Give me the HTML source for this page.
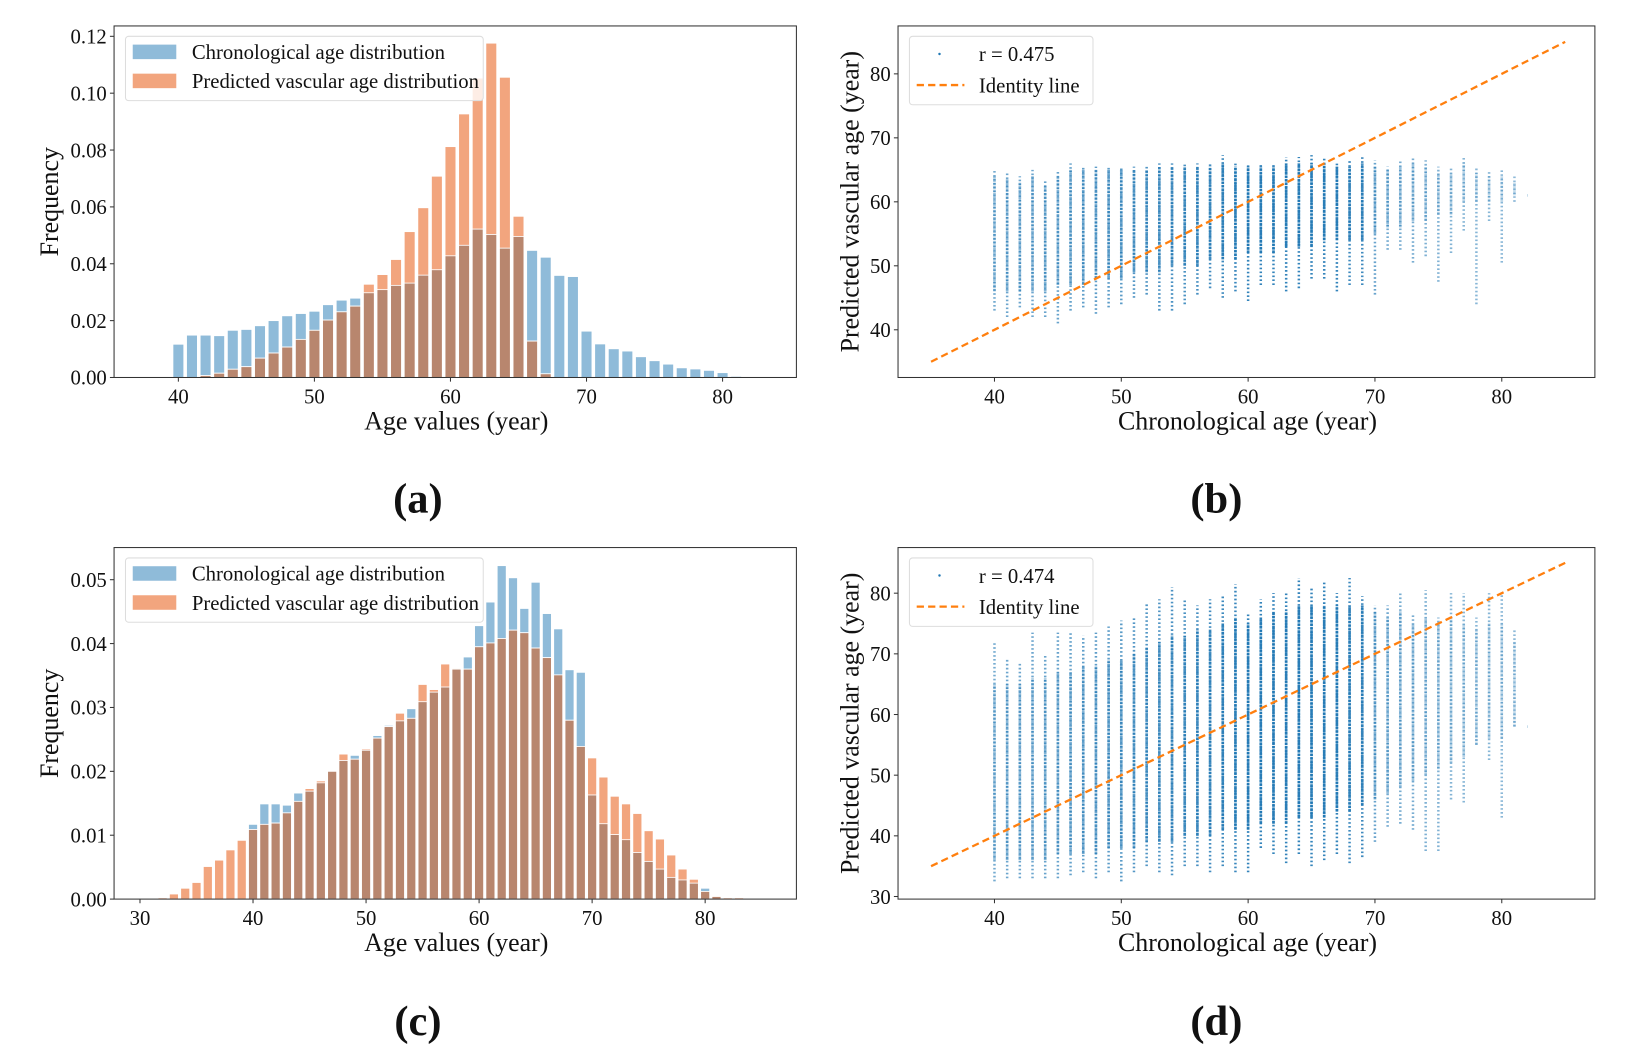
<!DOCTYPE html>
<html><head><meta charset="utf-8"><style>
html,body{margin:0;padding:0;background:#fff;}
svg{display:block;font-family:"Liberation Serif",serif;}
</style></head><body>
<svg id="fig" width="1626" height="1050" viewBox="0 0 1568 1012.5" xmlns="http://www.w3.org/2000/svg"></svg>
<script>
// ---------- data ----------
const histAges = [];
for (let a = 30; a <= 83; a++) histAges.push(a);
// chronological age distribution (ages 30..83)
const chronoFreq = [0,0,0,0,0,0,0,0,0,0,
 0.0117,0.0149,0.0149,0.0147,0.0166,0.0169,0.0182,0.0200,0.0217,0.0225,
 0.0233,0.0256,0.0272,0.0279,0.0298,0.0309,0.0324,0.0332,0.0360,0.0379,
 0.0428,0.0465,0.0522,0.0503,0.0455,0.0496,0.0447,0.0423,0.0359,0.0355,
 0.0163,0.0118,0.0101,0.0093,0.0073,0.0059,0.0047,0.0034,0.0030,0.0025,
 0.0017,0.0004,0,0];
// panel (a) predicted vascular age distribution (ages 30..83)
const predFreqA = [0,0,0,0,0,0,0,0,0,0,
 0,0,0.0007,0.0015,0.0029,0.0038,0.0068,0.0086,0.0107,0.0134,
 0.0166,0.0202,0.0231,0.0251,0.0328,0.0362,0.0415,0.0513,0.0597,0.0708,
 0.0812,0.0927,0.1053,0.1176,0.1056,0.0567,0.0128,0.0013,0,0,
 0,0,0,0,0,0,0,0,0,0,0,0,0,0];
// panel (c) predicted vascular age distribution (ages 30..83)
const predFreqC = [0,0,0.0002,0.0008,0.0017,0.0026,0.0051,0.0061,0.0077,0.0092,
 0.0109,0.0117,0.0119,0.0135,0.0153,0.0173,0.0185,0.0200,0.0227,0.0219,
 0.0235,0.0252,0.0270,0.0291,0.0283,0.0336,0.0328,0.0368,0.0361,0.0360,
 0.0395,0.0401,0.0408,0.0421,0.0417,0.0393,0.0378,0.0351,0.0280,0.0239,
 0.0221,0.0191,0.0161,0.0149,0.0134,0.0107,0.0094,0.0069,0.0047,0.0031,
 0.0012,0.0005,0.0002,0.0002];

const scatAges = [];
for (let a = 40; a <= 82; a++) scatAges.push(a);
const bHi = [65,64.5,64,65,63.5,65,66,65.5,65.5,65.5,65.5,65.5,65.5,66,66,66,66,66,67.3,66,66,66,66,67,67,67.3,67,66,66.5,67,66.5,65.5,66.5,67,66.5,65.5,65.5,67,65.5,65,65,64,61];
const bLo = [43,42,43.5,42,42,41,43,43.5,42.5,43.5,44,45,45.5,43,43,44,45.5,46.5,45,46,44.5,47,47,46,46.5,48,48,46,47,47,45.5,52.5,52.5,50.5,51.5,47.5,52,55.5,44,57,50.5,60,61];
const bCoreLo = [46,46,46,46,46,47,47,47,48,48,48,49,49,49,50,50,50,51,51,51,52,52,52,53,53,53,54,54,54,54,55,56,56,57,57,58,58,60,60,60,60,61,61];
const bCoreHi = [64,63.5,63,64,62.5,64,65,65,65,65,65,65,65,65.5,65.5,65.5,65.5,65.5,66,65.5,65.5,65.5,65.5,66,66,66,66,65.5,65.5,66,65.5,65,65.5,66,65.5,64.5,64.5,66,64.5,64,64,63,61];
const dHi = [72,69,68.5,73.5,70,73.5,73.5,73,73.5,74.5,75.5,76,78.5,79,81,79,78,79,79.5,81.5,76.5,79,80,80,82.5,81,82,80,82.5,79.5,78,78,80,76.5,80.5,76,80,80,76,80,80,74,58];
const dLo = [32.5,33,33,33,33,33,33.5,34,33,34,32.5,34,35,34,33.5,35,35,34,35,34,34,38,37,35.5,37,35,36,37,35.5,36.5,39,41.5,42,41,37.5,37.5,46,45.5,55,52.5,43,58,58];
const dCoreLo = [36,36,36,36,36,37,37,37,37,38,38,38,39,39,39,40,40,40,41,41,41,42,42,42,43,43,43,44,44,45,46,47,48,49,50,51,52,53,55,56,56,58,58];
const dCoreHi = [65,65,65,66,66,67,67,68,68,69,69,70,71,72,73,73,74,74,75,76,75,76,77,77,78,78,78,78,78,78,77,76,77,75,76,75,76,75,74,75,75,72,58];

const aYTicks = ["0.00","0.02","0.04","0.06","0.08","0.10","0.12"];
const cYTicks = ["0.00","0.01","0.02","0.03","0.04","0.05"];
const aXTicks = [40,50,60,70,80];
const cXTicks = [30,40,50,60,70,80];
const sXTicks = [40,50,60,70,80];
const bYTicks = [40,50,60,70,80];
const dYTicks = [30,40,50,60,70,80];
const identityRange = [35,85];

// ---------- helpers ----------
const NS = "http://www.w3.org/2000/svg";
const svg = document.getElementById('fig');
function mk(tag, attrs, parent, text) {
  const e = document.createElementNS(NS, tag);
  for (const k in attrs) e.setAttribute(k, attrs[k]);
  if (text !== undefined) e.textContent = text;
  (parent || svg).appendChild(e);
  return e;
}
const BLUE = "#8fbbd9", ORANGE = "#f2a57e", BROWN = "#b8866e";
const TICK_FS = 20, TITLE_FS = 25, LEG_FS = 20;

function axesFrame(g, L, R, T, B) {
  const r = mk('rect', {x:L, y:T, width:R-L, height:B-T, fill:'none', stroke:'#333', 'stroke-width':1}, g);
  
  
}
function xTicks(g, ticks, xf, B, labels) {
  ticks.forEach((t, i) => {
    const x = xf(t);
    mk('line', {x1:x, x2:x, y1:B, y2:B+4, stroke:'#333'}, g);
    const tx = mk('text', {x:x, y:B+25, 'font-size':TICK_FS, 'text-anchor':'middle', fill:'#111'}, g, labels ? labels[i] : t);
    
    
  });
}
function yTicks(g, vals, labels, yf, L) {
  vals.forEach((v, i) => {
    const y = yf(v);
    mk('line', {x1:L-4, x2:L, y1:y, y2:y, stroke:'#333'}, g);
    const tx = mk('text', {x:L-7, y:y+7, 'font-size':TICK_FS, 'text-anchor':'end', fill:'#111'}, g, labels[i]);
    
    
  });
}
function title(g, x, y, txt, rot, name) {
  const t = mk('text', {x:x, y:y, 'font-size':TITLE_FS, 'text-anchor':'middle', fill:'#111'}, g, txt);
  if (rot) t.setAttribute('transform', `rotate(-90 ${x} ${y})`);
  
  
}
function panelLabel(x, y, txt) {
  const t = mk('text', {x:x, y:y, 'font-size':41, 'font-weight':'bold', 'text-anchor':'middle', fill:'#111'}, svg, txt);
  
  
}

// ---------- histogram panel ----------
function histPanel(name, T, B, xf, yf, pred, yVals, yLabels, xT, L, R) {
  const g = mk('g', {}, svg);
  
  
  const w = (xf(41) - xf(40)) * 0.8;
  histAges.forEach((a, i) => {
    const b = chronoFreq[i], o = pred[i];
    const x = xf(a) - w/2;
    if (b > 0) {
      const r = mk('rect', {x:x, y:yf(b), width:w, height:yf(0)-yf(b), fill:BLUE, stroke:'#fff', 'stroke-width':0.8}, g);
      
      
    }
    if (o > 0) {
      const r = mk('rect', {x:x, y:yf(o), width:w, height:yf(0)-yf(o), fill:ORANGE, stroke:'#fff', 'stroke-width':0.8}, g);
      
      
    }
    const m = Math.min(b, o);
    if (m > 0) {
      const r = mk('rect', {x:x, y:yf(m), width:w, height:yf(0)-yf(m), fill:BROWN, stroke:'#fff', 'stroke-width':0.8}, g);
      
      
    }
  });
  axesFrame(g, L, R, T, B);
  yTicks(g, yVals, yLabels, yf, L);
  xTicks(g, xT, xf, B);
  title(g, 440, B+50, 'Age values (year)', false, 'x-axis-title');
  title(g, 56, (T+B)/2, 'Frequency', true, 'y-axis-title');
  // legend
  const lg = mk('g', {}, g);
  
  
  mk('rect', {x:121, y:T+10, width:345, height:62, rx:3, fill:'#fff', 'fill-opacity':0.8, stroke:'#ddd'}, lg);
  const e1 = mk('rect', {x:128, y:T+18, width:42, height:14, fill:BLUE}, lg);
  
  
  mk('text', {x:185, y:T+32, 'font-size':LEG_FS, fill:'#111'}, lg, 'Chronological age distribution');
  const e2 = mk('rect', {x:128, y:T+46, width:42, height:14, fill:ORANGE}, lg);
  
  
  mk('text', {x:185, y:T+60, 'font-size':LEG_FS, fill:'#111'}, lg, 'Predicted vascular age distribution');
}

// ---------- scatter panel ----------
function scatterPanel(name, T, B, xf, yf, hi, lo, cHi, cLo, yVals, rText) {
  const g = mk('g', {}, svg);
  
  
  const L = 866, R = 1538;
  scatAges.forEach((a, i) => {
    const f = chronoFreq[a - 30];
    const x = xf(a);
    const outer = mk('line', {x1:x, x2:x, y1:yf(lo[i]), y2:yf(hi[i]), stroke:'#1f77b4', 'stroke-width':2.4, 'stroke-dasharray':'1.6 2.2', opacity:Math.min(0.9, 0.5 + f*10)}, g);
    
    
    const core = mk('line', {x1:x, x2:x, y1:yf(cLo[i]), y2:yf(cHi[i]), stroke:'#1f77b4', 'stroke-width':2.6, 'stroke-dasharray':'2.5 0.8', opacity:Math.min(0.95, 0.25 + f*18)}, g);
    
    
  });
  const id = mk('line', {x1:xf(identityRange[0]), y1:yf(identityRange[0]), x2:xf(identityRange[1]), y2:yf(identityRange[1]), stroke:'#ff7f0e', 'stroke-width':2.2, 'stroke-dasharray':'7 4'}, g);
  
  
  axesFrame(g, L, R, T, B);
  yTicks(g, yVals, yVals.map(String), yf, L);
  xTicks(g, sXTicks, xf, B);
  title(g, 1203, B+50, 'Chronological age (year)', false, 'x-axis-title');
  title(g, 828, (T+B)/2, 'Predicted vascular age (year)', true, 'y-axis-title');
  const lg = mk('g', {}, g);
  
  
  mk('rect', {x:877, y:T+10, width:177, height:66, rx:3, fill:'#fff', 'fill-opacity':0.8, stroke:'#ddd'}, lg);
  mk('circle', {cx:906, cy:T+27, r:1.2, fill:'#1f77b4'}, lg);
  mk('text', {x:944, y:T+34, 'font-size':LEG_FS, fill:'#111'}, lg, rText);
  mk('line', {x1:884, x2:930, y1:T+57, y2:T+57, stroke:'#ff7f0e', 'stroke-width':2.2, 'stroke-dasharray':'7 4'}, lg);
  mk('text', {x:944, y:T+64, 'font-size':LEG_FS, fill:'#111'}, lg, 'Identity line');
}

// scales
const xA = v => 172 + (v - 40) * 13.12;
const yA = f => 364 - f / 0.12 * 329;
const xC = v => 135 + (v - 30) * 10.9;
const yC = f => 867 - f / 0.01 * 61.6;
const xS = v => 959 + (v - 40) * 12.23;
const yB = v => 318 - (v - 40) * 6.17;
const yD = v => 806 - (v - 40) * 5.85;

histPanel('histogram-a', 25, 364, xA, yA, predFreqA, [0,0.02,0.04,0.06,0.08,0.10,0.12], aYTicks, aXTicks, 110, 768);
histPanel('histogram-c', 528, 867, xC, yC, predFreqC, [0,0.01,0.02,0.03,0.04,0.05], cYTicks, cXTicks, 110, 768);
scatterPanel('scatter-b', 25, 364, xS, yB, bHi, bLo, bCoreHi, bCoreLo, bYTicks, 'r = 0.475');
scatterPanel('scatter-d', 528, 867, xS, yD, dHi, dLo, dCoreHi, dCoreLo, dYTicks, 'r = 0.474');

panelLabel(403, 494, '(a)');
panelLabel(1173, 494, '(b)');
panelLabel(403, 998, '(c)');
panelLabel(1173, 998, '(d)');
</script>
</body></html>
